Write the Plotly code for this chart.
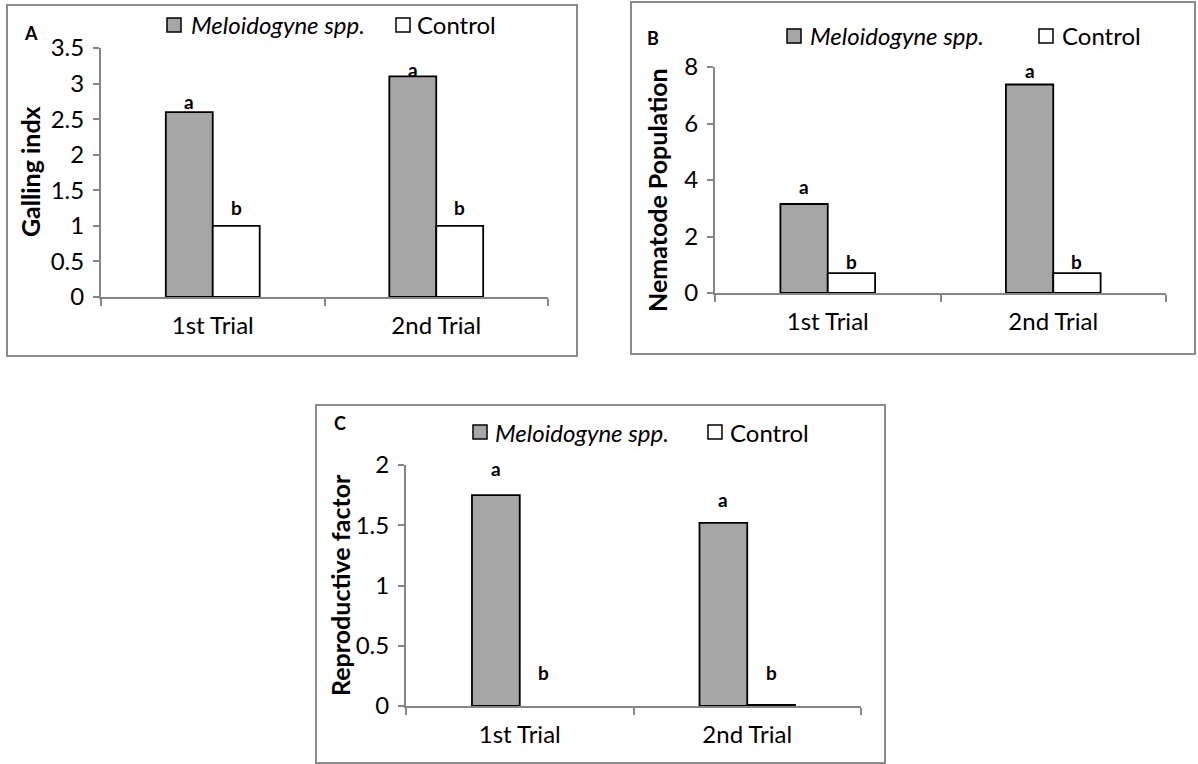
import plotly.graph_objects as go

# ---------------- data ----------------
trials = ["1st Trial", "2nd Trial"]
series_names = ["Meloidogyne spp.", "Control"]

galling_meloidogyne = [2.6, 3.1]
galling_control = [1.0, 1.0]

nematode_meloidogyne = [3.15, 7.38]
nematode_control = [0.70, 0.70]

rf_meloidogyne = [1.75, 1.52]
rf_control = [0.0, 0.01]

letters_meloidogyne = ["a", "a"]
letters_control = ["b", "b"]

panel_labels = ["A", "B", "C"]
y_titles = ["Galling indx", "Nematode Population", "Reproductive factor"]
yticks_A = [0, 0.5, 1, 1.5, 2, 2.5, 3, 3.5]
yticks_B = [0, 2, 4, 6, 8]
yticks_C = [0, 0.5, 1, 1.5, 2]

# ---------------- layout helpers ----------------
W, H = 1198, 764
FONT = "Lato"
AXIS_GREY = "#868686"
BOX_GREY = "#8c8c8c"
BAR_GREY = "#a6a6a6"
BAR_EDGE = 1.8
BARGAP = 0.58
SERIES_FILL = [BAR_GREY, "white"]


def px_x(x):
    return x / W


def px_y(y):
    return 1 - y / H


# pixel geometry of each panel
panels = [
    dict(xa=(101, 548), y0=297, ytop=48, ymax=3.5, ticks=yticks_A,
         m=galling_meloidogyne, c=galling_control,
         box=(7, 5, 577, 356), lab=(31, 33), title=(30, 172),
         leg_y=25, leg_x=[(167, 189), (396, 415)],
         shift_m=[-3, -7], shift_c=[5, 5]),
    dict(xa=(715, 1166), y0=293, ytop=67, ymax=8, ticks=yticks_B,
         m=nematode_meloidogyne, c=nematode_control,
         box=(631, 2, 1195, 354), lab=(653, 38), title=(657, 190),
         leg_y=36, leg_x=[(787, 808), (1039, 1060)],
         shift_m=[4, 1], shift_c=[-2, -2]),
    dict(xa=(406, 861), y0=706, ytop=465, ymax=2, ticks=yticks_C,
         m=rf_meloidogyne, c=rf_control,
         box=(316, 405, 885, 763), lab=(340, 423), title=(340, 585),
         leg_y=432, leg_x=[(473, 493), (708, 728)],
         shift_m=[13, 10], shift_c=[20, 19]),
]

fig = go.Figure()
annotations = []
shapes = []
layout_extra = {}

for i, p in enumerate(panels):
    n = i + 1
    xs = "" if n == 1 else str(n)
    xref, yref = "x" + xs, "y" + xs

    for s, vals in enumerate((p["m"], p["c"])):
        fig.add_trace(go.Bar(
            x=trials, y=vals, name=series_names[s],
            marker=dict(color=SERIES_FILL[s],
                        line=dict(color="black",
                                  width=[0 if v == 0 else BAR_EDGE for v in vals])),
            xaxis=xref, yaxis=yref, showlegend=False, hoverinfo="x+y"))

    axis_common = dict(
        showline=True, linecolor=AXIS_GREY, linewidth=2,
        ticks="outside", tickcolor=AXIS_GREY, tickwidth=1.5,
        showgrid=False, zeroline=False, automargin=False,
        tickfont=dict(family=FONT, size=24, color="black"),
    )
    layout_extra["xaxis" + xs] = dict(
        axis_common, domain=[px_x(p["xa"][0]), px_x(p["xa"][1])],
        anchor=yref, tickson="boundaries", ticklen=7,
        ticklabelstandoff=6, fixedrange=True)
    layout_extra["yaxis" + xs] = dict(
        axis_common, domain=[px_y(p["y0"]), px_y(p["ytop"])],
        anchor=xref, range=[0, p["ymax"]], tickvals=p["ticks"],
        ticklen=6, ticklabelstandoff=4, fixedrange=True)

    # legend (square swatch + label) for this panel
    for s, (mx, tx) in enumerate(p["leg_x"]):
        shapes.append(dict(type="rect", xref="paper", yref="paper",
                           x0=px_x(mx), x1=px_x(mx + 14),
                           y0=px_y(p["leg_y"] + 7), y1=px_y(p["leg_y"] - 7),
                           fillcolor=SERIES_FILL[s], line=dict(color="black", width=1.5)))
        label = "<i>%s</i>" % series_names[s] if s == 0 else series_names[s]
        annotations.append(dict(
            x=px_x(tx), y=px_y(p["leg_y"]), xref="paper", yref="paper",
            text=label, showarrow=False, xanchor="left", yanchor="middle",
            font=dict(family=FONT, size=24, color="black")))

    # significance letters
    cat_w = (p["xa"][1] - p["xa"][0]) / len(trials)
    off = cat_w * (1 - BARGAP) / 4
    for j, t in enumerate(trials):
        annotations.append(dict(
            x=t, y=p["m"][j], xref=xref, yref=yref,
            text="<b>%s</b>" % letters_meloidogyne[j],
            showarrow=False, xshift=-off, yshift=p["shift_m"][j], yanchor="bottom",
            font=dict(family=FONT, size=19, color="black")))
        annotations.append(dict(
            x=t, y=p["c"][j], xref=xref, yref=yref,
            text="<b>%s</b>" % letters_control[j],
            showarrow=False, xshift=off, yshift=p["shift_c"][j], yanchor="bottom",
            font=dict(family=FONT, size=19, color="black")))

    # panel letter
    annotations.append(dict(
        x=px_x(p["lab"][0]), y=px_y(p["lab"][1]), xref="paper", yref="paper",
        text="<b>%s</b>" % panel_labels[i], showarrow=False,
        xanchor="center", yanchor="middle",
        font=dict(family=FONT, size=18, color="black")))
    # y-axis title
    annotations.append(dict(
        x=px_x(p["title"][0]), y=px_y(p["title"][1]), xref="paper", yref="paper",
        text="<b>%s</b>" % y_titles[i], showarrow=False, textangle=-90,
        xanchor="center", yanchor="middle",
        font=dict(family=FONT, size=25, color="black")))

    # panel border
    bx0, by0, bx1, by1 = p["box"]
    shapes.append(dict(type="rect", xref="paper", yref="paper",
                       x0=px_x(bx0), x1=px_x(bx1), y0=px_y(by1), y1=px_y(by0),
                       line=dict(color=BOX_GREY, width=2), fillcolor="rgba(0,0,0,0)"))

fig.update_layout(
    width=W, height=H,
    margin=dict(l=0, r=0, t=0, b=0, autoexpand=False),
    paper_bgcolor="white", plot_bgcolor="white",
    barmode="group", bargap=BARGAP, bargroupgap=0,
    showlegend=False,
    font=dict(family=FONT, color="black"),
    annotations=annotations, shapes=shapes,
    **layout_extra,
)

fig.write_html(
    "out.html",
    config={"displayModeBar": False},
    post_script="document.body.style.margin='0';document.body.style.overflow='hidden';",
)
